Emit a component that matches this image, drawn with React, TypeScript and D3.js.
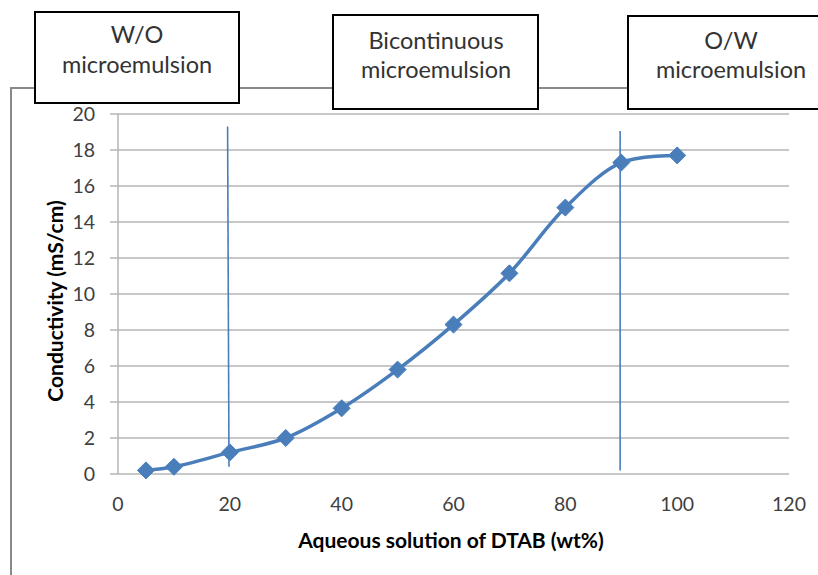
import React from "react";
import * as d3 from "d3";

const xValues = [5, 10, 20, 30, 40, 50, 60, 70, 80, 90, 100];
const conductivity = [0.2, 0.4, 1.2, 2.0, 3.65, 5.8, 8.3, 11.15, 14.8, 17.3, 17.7];
const xTicks = [0, 20, 40, 60, 80, 100, 120];
const yTicks = [0, 2, 4, 6, 8, 10, 12, 14, 16, 18, 20];
// boundary lines between regions
const boundaryX1 = [19.6, 89.8];
const boundaryY1 = [19.3, 19.05];
const boundaryX2 = [19.85, 89.8];
const boundaryY2 = [0.4, 0.2];
const regionLine1 = ["W/O", "Bicontinuous", "O/W"];
const regionLine2 = ["microemulsion", "microemulsion", "microemulsion"];

const W = 818;
const H = 575;
const FONT = "Lato, 'Open Sans', sans-serif";
const BLUE = "#4a7ebb";

export default function App() {
  const x = d3.scaleLinear().domain([0, 120]).range([118, 789]);
  const y = d3.scaleLinear().domain([0, 20]).range([474, 114]);
  const line = d3
    .line<number>()
    .x((_, i) => x(xValues[i]))
    .y((d) => y(d))
    .curve(d3.curveCatmullRom.alpha(0.5));

  const boxes = [
    { x: 35, y: 12, w: 204, h: 91, cx: 137, l1: 35, l2: 65 },
    { x: 333, y: 15, w: 205, h: 94, cx: 436, l1: 41, l2: 70 },
    { x: 628, y: 16, w: 204, h: 93, cx: 731, l1: 41, l2: 70 },
  ];

  return (
    <svg
      width={W}
      height={H}
      style={{ position: "absolute", left: 0, top: 0, background: "#fff" }}
      fontFamily={FONT}
    >
      {/* outer chart border */}
      <rect x={11} y={88} width={W} height={H} fill="#fff" stroke="#898989" strokeWidth={2} />

      {/* gridlines */}
      {yTicks.map((t) => (
        <line key={t} x1={110} x2={789} y1={y(t)} y2={y(t)} stroke="#b5b5b5" strokeWidth={1.5} />
      ))}
      {/* y axis */}
      <line x1={118} x2={118} y1={y(20)} y2={y(0)} stroke="#b5b5b5" strokeWidth={1.5} />

      {/* y tick labels */}
      {yTicks.map((t) => (
        <text key={t} x={95} y={y(t)} dy="0.36em" textAnchor="end" fontSize={19.5} fill="#404040">
          {t}
        </text>
      ))}
      {/* x tick labels */}
      {xTicks.map((t) => (
        <text key={t} x={x(t)} y={504} dy="0.36em" textAnchor="middle" fontSize={19.5} fill="#404040">
          {t}
        </text>
      ))}

      {/* axis titles */}
      <text x={451} y={540} dy="0.36em" textAnchor="middle" fontSize={21} fontWeight="bold" fill="#000">
        Aqueous solution of DTAB (wt%)
      </text>
      <text
        transform={`translate(55,${301}) rotate(-90)`}
        dy="0.36em"
        textAnchor="middle"
        fontSize={21}
        fontWeight="bold"
        fill="#000"
      >
        Conductivity (mS/cm)
      </text>

      {/* boundary lines */}
      {boundaryX1.map((bx, i) => (
        <line
          key={i}
          x1={x(bx)}
          y1={y(boundaryY1[i])}
          x2={x(boundaryX2[i])}
          y2={y(boundaryY2[i])}
          stroke={BLUE}
          strokeWidth={1.6}
        />
      ))}

      {/* data line */}
      <path d={line(conductivity) || ""} fill="none" stroke={BLUE} strokeWidth={3.5} />
      {conductivity.map((v, i) => (
        <path
          key={i}
          d={d3.symbol(d3.symbolDiamond2, 185)() || ""}
          transform={`translate(${x(xValues[i])},${y(v)})`}
          fill={BLUE}
          stroke={BLUE}
          strokeWidth={1}
        />
      ))}

      {/* region boxes */}
      {boxes.map((b, i) => (
        <g key={i}>
          <rect x={b.x} y={b.y} width={b.w} height={b.h} fill="#fff" stroke="#000" strokeWidth={2} />
          <text x={b.cx} y={b.l1} dy="0.36em" textAnchor="middle" fontSize={23.5} fill="#333">
            {regionLine1[i]}
          </text>
          <text x={b.cx} y={b.l2} dy="0.36em" textAnchor="middle" fontSize={23.5} fill="#333">
            {regionLine2[i]}
          </text>
        </g>
      ))}
    </svg>
  );
}
